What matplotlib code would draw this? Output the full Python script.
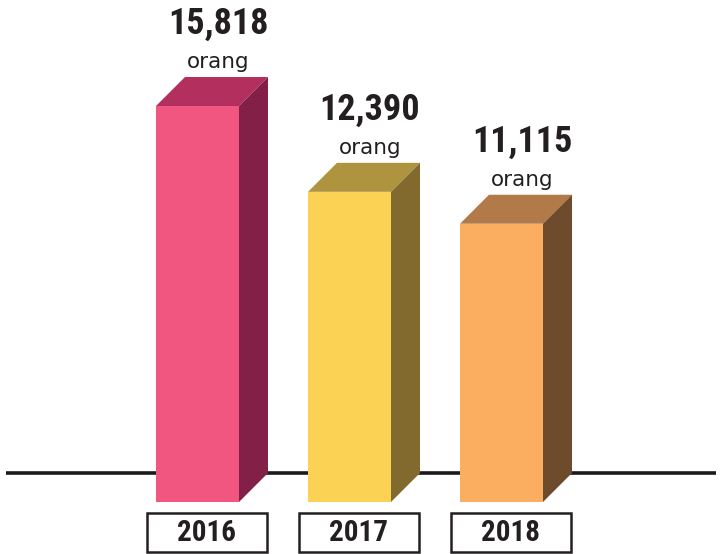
import matplotlib
matplotlib.use("Agg")
import matplotlib.pyplot as plt
from matplotlib.patches import Polygon, Rectangle
from matplotlib import font_manager

years = ["2016", "2017", "2018"]
values = [15818, 12390, 11115]
value_labels = ["15,818", "12,390", "11,115"]
unit = "orang"

front_colors = ["#F0567F", "#FCD254", "#FBAE5F"]
top_colors = ["#B3305E", "#AF9440", "#B27A48"]
side_colors = ["#822048", "#826A2E", "#6E4B2D"]

W, H = 720, 554
fig = plt.figure(figsize=(W / 100, H / 100), dpi=100)
ax = fig.add_axes([0, 0, 1, 1])
ax.set_xlim(0, W)
ax.set_ylim(H, 0)
ax.axis("off")

# layout in pixel space; bar heights scale from the values
bottom = 502
px_per_unit = 396 / max(values)
bar_w = 83
step = 152
left0 = 156
depth = 29

installed = {f.name for f in font_manager.fontManager.ttflist}
narrow = [n for n in ["Roboto Condensed", "Liberation Sans Narrow", "Arial Narrow"]
          if n in installed]
num_font = narrow + ["Liberation Sans", "DejaVu Sans"]
num_size = 26 if narrow else 24
year_size = 21 if narrow else 19

# floor line at the back edge of the bars
ax.plot([6, 716], [bottom - depth, bottom - depth], color="#1a1a1a", lw=2.6,
        solid_capstyle="butt", zorder=1)

for i, (yr, v, lab) in enumerate(zip(years, values, value_labels)):
    x0 = left0 + step * i
    x1 = x0 + bar_w
    top = bottom - v * px_per_unit
    # front face
    ax.add_patch(Rectangle((x0, top), bar_w, bottom - top,
                           facecolor=front_colors[i], edgecolor="none", zorder=3))
    # top face
    ax.add_patch(Polygon([(x0, top), (x0 + depth, top - depth),
                          (x1 + depth, top - depth), (x1, top)],
                         closed=True, facecolor=top_colors[i], edgecolor="none", zorder=3))
    # side face
    ax.add_patch(Polygon([(x1, top), (x1 + depth, top - depth),
                          (x1 + depth, bottom - depth), (x1, bottom)],
                         closed=True, facecolor=side_colors[i], edgecolor="none", zorder=3))

    cx = x0 + 62
    back_top = top - depth
    ax.text(cx, back_top - 53, lab, ha="center", va="center", fontsize=num_size,
            fontweight="bold", family=num_font, color="#231f20", zorder=4)
    ax.text(cx, back_top - 15, unit, ha="center", va="center", fontsize=15.5,
            family=["DejaVu Sans"], color="#231f20", zorder=4)

    # year label box
    bx = x0 - 9
    ax.add_patch(Rectangle((bx, 513), 120, 39, facecolor="white",
                           edgecolor="#231f20", lw=1.8, zorder=3))
    ax.text(bx + 60, 533, yr, ha="center", va="center", fontsize=year_size,
            fontweight="bold", family=num_font, color="#231f20", zorder=4)

fig.savefig("out.png", dpi=100)
